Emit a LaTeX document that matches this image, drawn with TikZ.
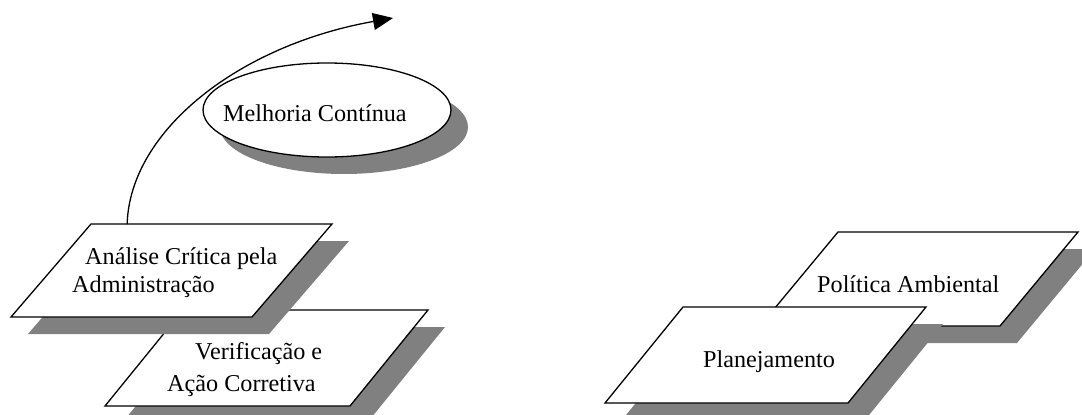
\documentclass[tikz,border=0pt]{standalone}
\usepackage{fontspec}
\setmainfont{Liberation Serif}
\usetikzlibrary{arrows.meta,calc,shapes.geometric}
\definecolor{shade}{RGB}{128,128,128}
\tikzset{
  plate/.style={draw=black, fill=white, line width=1.3pt, line join=miter},
  plateshadow/.style={fill=shade},
  lbl/.style={inner sep=0pt, anchor=base west, font=\fontsize{24.2}{29}\selectfont},
  flow/.style={line width=1.3pt, -{Triangle[length=20pt,width=17pt]}},
}
% slanted plate with a drop shadow:
% name, bottom-left x, bottom-left y, width, height, slant
\newcommand\slantplate[6]{%
  \fill[plateshadow] (#2+17,#3+17) -- ++(#4,0) -- ++(#6,-#5) -- ++(-#4,0) -- cycle;
  \draw[plate] (#2,#3) coordinate (#1-bl) -- ++(#4,0) coordinate (#1-br)
    -- ++(#6,-#5) coordinate (#1-tr) -- ++(-#4,0) coordinate (#1-tl) -- cycle;
}
\begin{document}
\begin{tikzpicture}[x=1pt,y=-1pt]
  \useasboundingbox (0,0) rectangle (1082,415);

  % right-hand group
  \slantplate{pol}{760}{326}{240}{94}{78}
  \slantplate{plan}{605}{403}{243}{96}{78}

  % left-hand group
  \slantplate{ver}{105}{406}{245}{96}{78}
  \slantplate{ana}{11}{317}{241}{93}{80}

  % ellipse with shadow
  \fill[plateshadow] (344,127) ellipse [x radius=124pt, y radius=47pt];
  \node[ellipse, draw=black, fill=white, line width=1.3pt, inner sep=0pt,
        minimum width=248pt, minimum height=94pt] (melhoria) at (327,110) {};

  % curved arrow leaving the review plate
  \coordinate (ana-start) at ($(ana-tl)!0.15!(ana-tr)$);
  \coordinate (arrowtip) at (393,18);
  \draw[flow] (ana-start) .. controls (130,130) and (240,45) .. (arrowtip);

  % texts
  \node[lbl] (t-melhoria) at (223,121) {Melhoria Contínua};
  \node[lbl] (t-ana1) at (85,264) {Análise Crítica pela};
  \node[lbl] (t-ana2) at (72,292) {Administração};
  \node[lbl] (t-ver1) at (195,359) {Verificação e};
  \node[lbl] (t-ver2) at (167,391) {Ação Corretiva};
  \node[lbl] (t-plan) at (703,367) {Planejamento};
  \node[lbl] (t-pol) at (817,292) {Política Ambiental};
\end{tikzpicture}
\end{document}
